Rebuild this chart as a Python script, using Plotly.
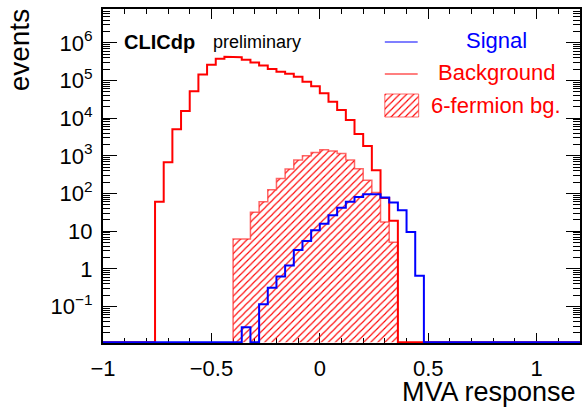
import plotly.graph_objects as go

# ---------------- data ----------------
BIN_WIDTH = 0.04
X_RANGE = [-1.0, 1.2]
Y_LOG_RANGE = [-1.97, 6.90]

BKG_START = -0.76
BKG_EVENTS = [60, 680, 5100, 15500, 52000, 145000, 263000, 380000, 427000, 417000,
              355000, 302000, 251000, 204000, 170000, 151000, 126000, 93000, 71000, 46000,
              27500, 16600, 8900, 3800, 1820, 417, 76, 19]

SIXF_START = -0.40
SIXF_EVENTS = [6.2, 6.2, 32, 60, 126, 251, 447, 776, 1000, 1230,
               1450, 1350, 1150, 776, 457, 224, 107, 17.4, 5.1]

SIG_START = -0.36
SIG_EVENTS = [0.028, 0, 0.115, 0.316, 0.63, 1.23, 3.16, 5.5, 10.5, 15.8,
              26.3, 41.7, 60, 81, 95, 95, 78, 58, 36, 9.5, 0.65]

X_TICK_VALS = [-1, -0.5, 0, 0.5, 1]
X_TICK_TEXT = ["\u22121", "\u22120.5", "0", "0.5", "1"]
Y_TICK_VALS = [0.1, 1, 10, 100, 1e3, 1e4, 1e5, 1e6]
Y_TICK_TEXT = ["10<sup>\u22121</sup>", "1", "10", "10<sup>2</sup>", "10<sup>3</sup>",
               "10<sup>4</sup>", "10<sup>5</sup>", "10<sup>6</sup>"]

LEGEND_LABELS = ["Signal", "Background", "6-fermion bg."]

# ---------------- styling ----------------
FONT = "Liberation Sans"
RED = "#ff0000"
BLUE = "#0000ff"
HATCH_EDGE = "rgba(255,40,40,0.7)"
W, H = 584, 407
L, R, T, B = 103, 2, 9, 64
FLOOR = 10 ** (Y_LOG_RANGE[0] + 0.02)   # where empty bins are drawn (axis floor)
HATCH = dict(shape="/", fgcolor=RED, bgcolor="rgba(0,0,0,0)",
             size=5, solidity=0.22, fillmode="replace")


def step_path(start, values, full=True):
    xs, ys = [], []
    if full:
        xs += [X_RANGE[0]]
        ys += [FLOOR]
    xs.append(start)
    ys.append(FLOOR)
    for i, v in enumerate(values):
        left = round(start + i * BIN_WIDTH, 6)
        right = round(start + (i + 1) * BIN_WIDTH, 6)
        y = v if v > 0 else FLOOR
        xs += [left, right]
        ys += [y, y]
    end = round(start + len(values) * BIN_WIDTH, 6)
    xs.append(end)
    ys.append(FLOOR)
    if full:
        xs.append(X_RANGE[1])
        ys.append(FLOOR)
    return xs, ys


fig = go.Figure()

# 6-fermion hatched histogram
hx, hy = step_path(SIXF_START, SIXF_EVENTS, full=False)
fig.add_trace(go.Scatter(
    x=hx, y=hy, mode="lines", fill="toself",
    line=dict(color=HATCH_EDGE, width=1.5),
    fillcolor="rgba(0,0,0,0)", fillpattern=HATCH,
    showlegend=False, hoverinfo="skip"))

# Background
bx, by = step_path(BKG_START, BKG_EVENTS)
fig.add_trace(go.Scatter(x=bx, y=by, mode="lines", line=dict(color=RED, width=2),
                         showlegend=False, hoverinfo="skip"))

# Signal
sx, sy = step_path(SIG_START, SIG_EVENTS)
fig.add_trace(go.Scatter(x=sx, y=sy, mode="lines", line=dict(color=BLUE, width=2),
                         showlegend=False, hoverinfo="skip"))

# ---------------- hand-made legend on an overlay unit axis ----------------
def fx(px):
    return (px - L) / (W - L - R)


def fy(py):
    return (H - B - py) / (H - T - B)


fig.add_trace(go.Scatter(x=[fx(386), fx(419)], y=[fy(42), fy(42)], mode="lines",
                         line=dict(color=BLUE, width=1.2), xaxis="x2", yaxis="y2",
                         showlegend=False, hoverinfo="skip"))
fig.add_trace(go.Scatter(x=[fx(386), fx(419)], y=[fy(74), fy(74)], mode="lines",
                         line=dict(color=RED, width=1.2), xaxis="x2", yaxis="y2",
                         showlegend=False, hoverinfo="skip"))
fig.add_trace(go.Scatter(x=[fx(386), fx(420), fx(420), fx(386), fx(386)],
                         y=[fy(94), fy(94), fy(117), fy(117), fy(94)],
                         mode="lines", fill="toself",
                         line=dict(color=HATCH_EDGE, width=1),
                         fillcolor="rgba(0,0,0,0)", fillpattern=HATCH,
                         xaxis="x2", yaxis="y2", showlegend=False, hoverinfo="skip"))

annotations = [
    dict(text="<b>CLICdp</b>", x=fx(122), y=fy(42), xanchor="left", yanchor="middle",
         font=dict(family=FONT, size=20, color="black")),
    dict(text="preliminary", x=fx(211), y=fy(42), xanchor="left", yanchor="middle",
         font=dict(family=FONT, size=18, color="black")),
    dict(text=LEGEND_LABELS[0], x=fx(498), y=fy(41), xanchor="center", yanchor="middle",
         font=dict(family=FONT, size=22, color=BLUE)),
    dict(text=LEGEND_LABELS[1], x=fx(498), y=fy(73), xanchor="center", yanchor="middle",
         font=dict(family=FONT, size=22, color=RED)),
    dict(text=LEGEND_LABELS[2], x=fx(498), y=fy(105), xanchor="center", yanchor="middle",
         font=dict(family=FONT, size=22, color=RED)),
    dict(text="events", x=fx(19), y=fy(50), xanchor="center", yanchor="middle",
         textangle=-90, font=dict(family=FONT, size=28, color="black")),
    dict(text="MVA response", x=fx(580), y=fy(392), xanchor="right", yanchor="middle",
         font=dict(family=FONT, size=27, color="black")),
]
for a in annotations:
    a.update(xref="paper", yref="paper", showarrow=False)

fig.update_layout(
    width=W, height=H,
    margin=dict(l=L, r=R, t=T, b=B, pad=0),
    paper_bgcolor="white", plot_bgcolor="white",
    showlegend=False,
    annotations=annotations,
    xaxis=dict(range=X_RANGE, tickmode="array", tickvals=X_TICK_VALS, ticktext=X_TICK_TEXT,
               ticks="inside", ticklen=10, tickwidth=1, tickcolor="black",
               minor=dict(tickmode="linear", tick0=-1, dtick=0.1, ticks="inside",
                          ticklen=5, tickwidth=1, tickcolor="black", showgrid=False),
               showline=True, linecolor="black", linewidth=2, mirror="ticks",
               showgrid=False, zeroline=False, layer="below traces",
               tickfont=dict(family=FONT, size=22, color="black"), ticklabelstandoff=5),
    yaxis=dict(type="log", range=Y_LOG_RANGE, tickmode="array", tickvals=Y_TICK_VALS,
               ticktext=Y_TICK_TEXT, ticks="inside", ticklen=14, tickwidth=1,
               tickcolor="black",
               minor=dict(tickmode="linear", dtick="D1", ticks="inside", ticklen=7,
                          tickwidth=1, tickcolor="black", showgrid=False),
               showline=True, linecolor="black", linewidth=2, mirror="ticks",
               showgrid=False, zeroline=False, layer="below traces",
               tickfont=dict(family=FONT, size=22, color="black"), ticklabelstandoff=4),
    xaxis2=dict(range=[0, 1], overlaying="x", visible=False, fixedrange=True),
    yaxis2=dict(range=[0, 1], overlaying="y", visible=False, fixedrange=True),
)

fig.write_html("out.html")
